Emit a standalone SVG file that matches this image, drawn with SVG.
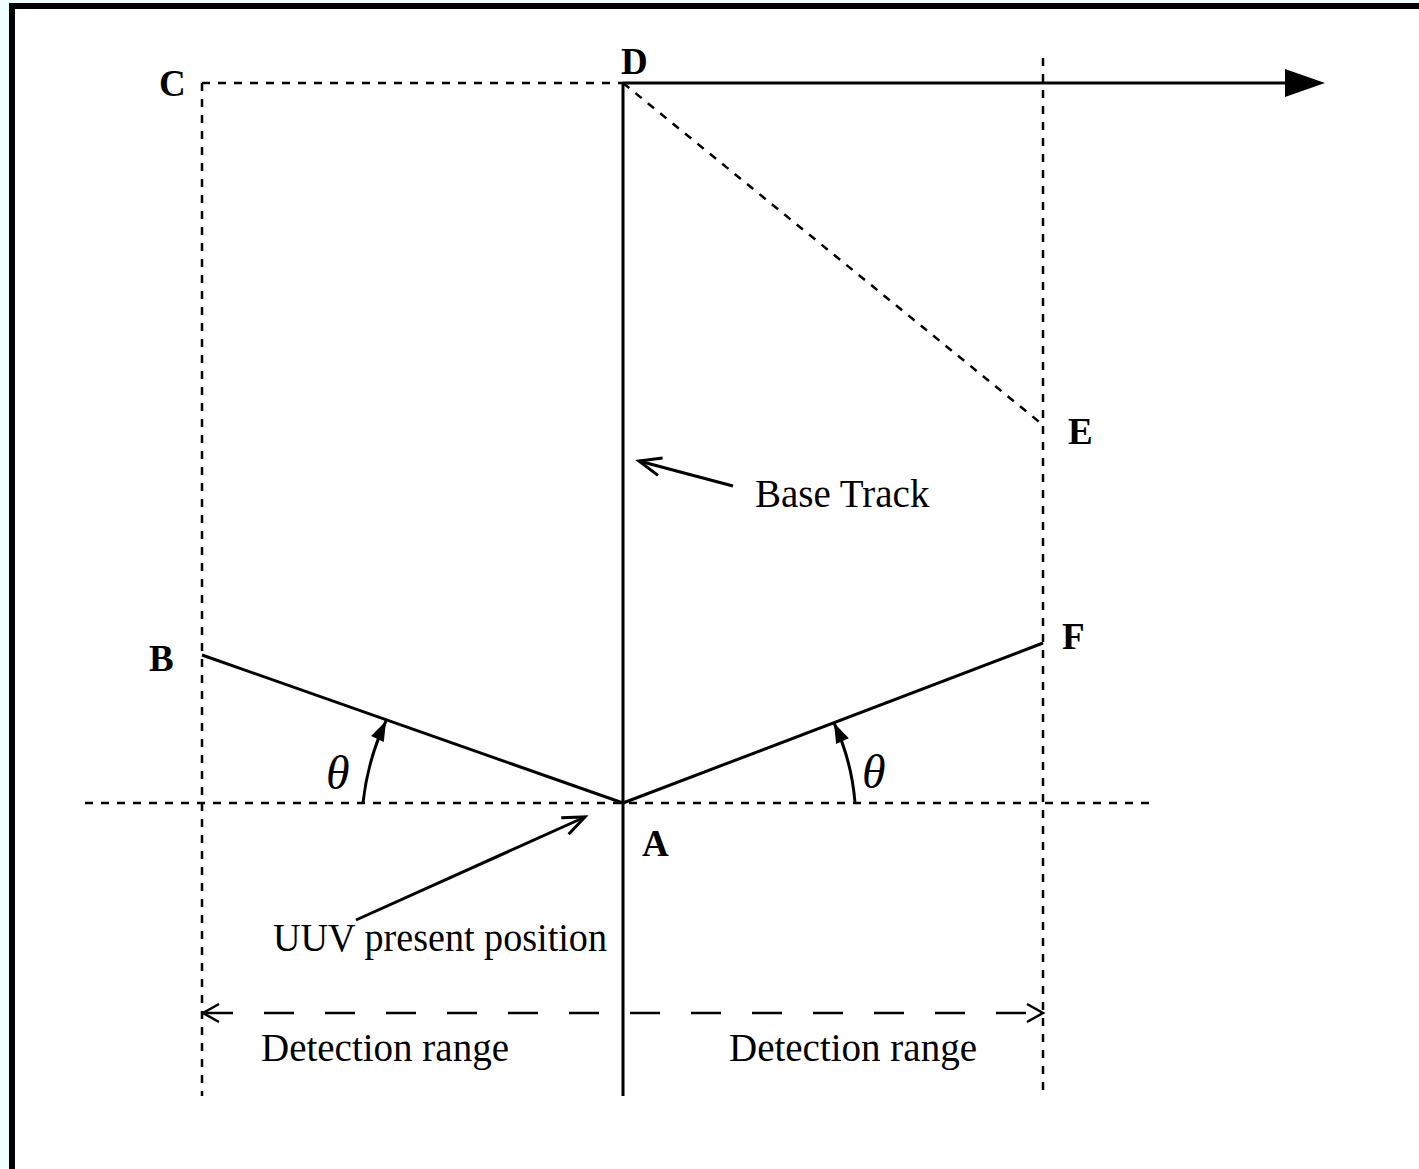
<svg xmlns="http://www.w3.org/2000/svg" width="1419" height="1169" viewBox="0 0 1419 1169">
  <style>
    .lbl { font-family: "Liberation Serif", "Times New Roman", serif; font-weight: bold; font-size: 37px; fill: #000; }
    .txt { font-family: "Liberation Serif", "Times New Roman", serif; font-size: 39px; fill: #000; }
    .theta { font-family: "Liberation Serif", "Times New Roman", serif; font-style: italic; font-size: 48px; fill: #000; }
    .solid { stroke: #000; stroke-width: 3; fill: none; }
    .dash { stroke: #000; stroke-width: 2.5; fill: none; stroke-dasharray: 8 8; }
    .longdash { stroke: #000; stroke-width: 2.5; fill: none; stroke-dasharray: 30 31; }
  </style>
  <defs>
    <marker id="bigHead" markerUnits="userSpaceOnUse" markerWidth="40" markerHeight="28" refX="0" refY="14" orient="auto" overflow="visible">
      <path d="M0,0 L40,14 L0,28 Z" fill="#000"/>
    </marker>
    <marker id="arcHead" markerUnits="userSpaceOnUse" markerWidth="20" markerHeight="14" refX="20" refY="7" orient="auto" overflow="visible">
      <path d="M0,0 L20,7 L0,14 Z" fill="#000"/>
    </marker>
    <marker id="openHead" markerUnits="userSpaceOnUse" markerWidth="24" markerHeight="20" refX="22" refY="9" orient="auto" overflow="visible">
      <path d="M0,0 L22,9 L0,18" fill="none" stroke="#000" stroke-width="3"/>
    </marker>
    <marker id="dimHead" markerUnits="userSpaceOnUse" markerWidth="18" markerHeight="20" refX="16" refY="9" orient="auto-start-reverse" overflow="visible">
      <path d="M0,0 L16,9 L0,18" fill="none" stroke="#000" stroke-width="2.5"/>
    </marker>
  </defs>

  <!-- background and frame -->
  <rect x="0" y="0" width="1419" height="1169" fill="#F0FFFF"/>
  <rect x="9" y="3" width="1410" height="1166" fill="#000"/>
  <rect x="15" y="9" width="1404" height="1160" fill="#FFFFFF"/>

  <g id="connectors">
    <!-- rectangle / range boundaries -->
    <line class="dash" x1="202" y1="83" x2="623" y2="83"/>
    <line class="dash" x1="202" y1="83" x2="202" y2="1096"/>
    <line class="dash" x1="1043" y1="58" x2="1043" y2="1096"/>
    <line class="dash" x1="623" y1="83" x2="1043" y2="425"/>
    <line class="dash" x1="85" y1="803" x2="1155" y2="803"/>
    <!-- base track -->
    <line class="solid" x1="623" y1="83" x2="623" y2="1096"/>
    <line class="solid" x1="623" y1="83" x2="1285" y2="83" marker-end="url(#bigHead)"/>
    <!-- legs -->
    <line class="solid" x1="202" y1="655" x2="623" y2="803"/>
    <line class="solid" x1="623" y1="803" x2="1043" y2="643"/>
    <!-- angle arcs -->
    <path class="solid" d="M 363 803 A 255 255 0 0 1 386 721" marker-end="url(#arcHead)"/>
    <path class="solid" d="M 855 803 A 230 230 0 0 0 834 723" marker-end="url(#arcHead)"/>
    <!-- pointers -->
    <line class="solid" x1="733" y1="486" x2="639" y2="461" marker-end="url(#openHead)"/>
    <line class="solid" x1="356" y1="920" x2="585" y2="817" marker-end="url(#openHead)"/>
    <!-- detection range dimension -->
    <line class="longdash" x1="203" y1="1013" x2="1043" y2="1013" marker-start="url(#dimHead)" marker-end="url(#dimHead)"/>
  </g>

  <g id="node-C"><text class="lbl" x="159" y="96">C</text></g>
  <g id="node-D"><text class="lbl" x="621" y="74">D</text></g>
  <g id="node-E"><text class="lbl" x="1068" y="444">E</text></g>
  <g id="node-B"><text class="lbl" x="149" y="671">B</text></g>
  <g id="node-F"><text class="lbl" x="1062" y="649">F</text></g>
  <g id="node-A"><text class="lbl" x="642" y="856">A</text></g>

  <g id="theta-left"><text class="theta" x="326" y="789">θ</text></g>
  <g id="theta-right"><text class="theta" x="862" y="788">θ</text></g>

  <g id="label-base-track"><text class="txt" x="755" y="507">Base Track</text></g>
  <g id="label-uuv"><text class="txt" x="273" y="951" textLength="334" lengthAdjust="spacingAndGlyphs">UUV present position</text></g>
  <g id="label-range-left"><text class="txt" x="261" y="1061">Detection range</text></g>
  <g id="label-range-right"><text class="txt" x="729" y="1061">Detection range</text></g>
</svg>
